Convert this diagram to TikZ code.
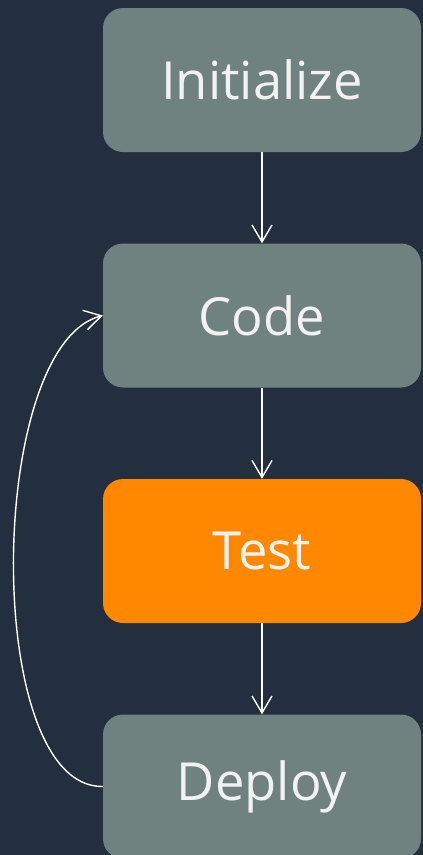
\documentclass[tikz,border=0pt]{standalone}
\usepackage{fontspec}
\setmainfont{Open Sans}
\usetikzlibrary{arrows.meta}
\definecolor{inkbg}{HTML}{232F3E}
\definecolor{stepgray}{HTML}{6F8280}
\definecolor{steporange}{HTML}{FF8800}
\definecolor{labelwhite}{HTML}{F2F2F2}
\tikzset{
  stage/.style={rectangle, rounded corners=20pt, minimum width=318pt, minimum height=144pt,
    inner sep=0pt, fill=stepgray, text=labelwhite, font=\fontsize{52.5}{60}\selectfont},
  hot/.style={fill=steporange},
  flow/.style={draw=white, line width=1.4pt, -{Straight Barb[length=17pt,width=20pt,line width=1.4pt]}}
}
\begin{document}
\begin{tikzpicture}[x=1pt,y=-1pt]
  \fill[inkbg] (0,0) rectangle (423,855);
  \useasboundingbox (0,0) rectangle (423,855);
  \node[stage] (init) at (262,80) {Initialize};
  \node[stage] (code) at (262,315.5) {Code};
  \node[stage, hot] (test) at (262,551) {Test};
  \node[stage] (deploy) at (262,786.5) {Deploy};
  \draw[flow] (init.south) -- (code.north);
  \draw[flow] (code.south) -- (test.north);
  \draw[flow] (test.south) -- (deploy.north);
  % feedback loop from Deploy back to Code
  \draw[flow] (deploy.west) .. controls (-18,788) and (-14,345) .. (code.west);
\end{tikzpicture}
\end{document}
